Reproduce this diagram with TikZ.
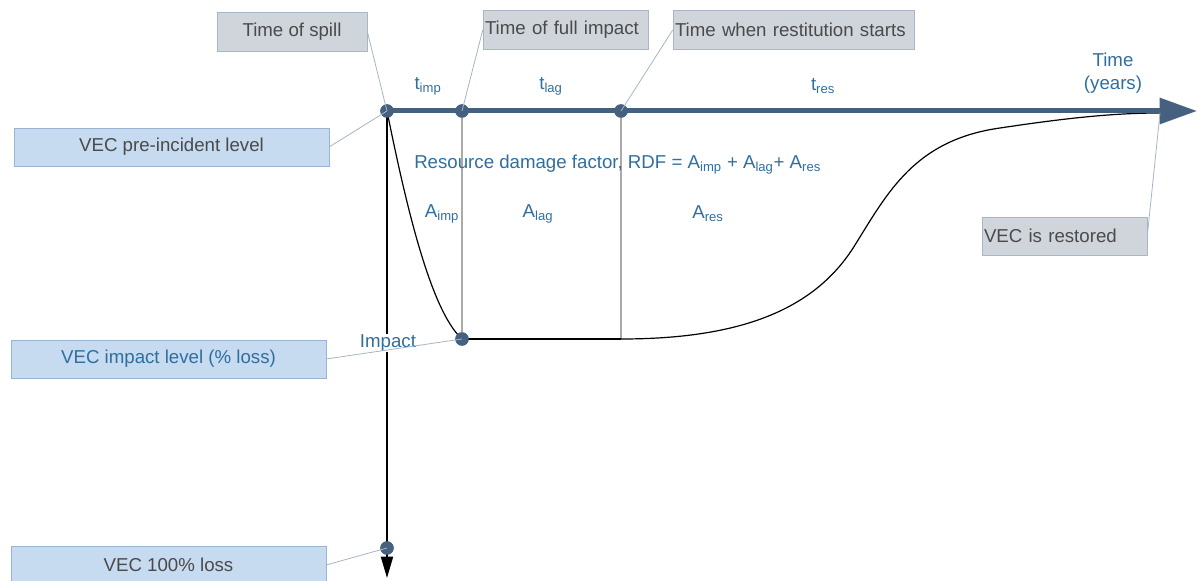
\documentclass[tikz,border=0pt]{standalone}
\usepackage{fontspec}
\setmainfont{Liberation Sans}
\usetikzlibrary{arrows.meta,positioning}
\definecolor{axis}{HTML}{45617F}
\definecolor{label}{HTML}{2F6E9F}
\definecolor{ink}{HTML}{4A4A4A}
\definecolor{greyfill}{HTML}{D0D5DC}
\definecolor{greyline}{HTML}{A9B6C6}
\definecolor{bluefill}{HTML}{C6DAF0}
\definecolor{blueline}{HTML}{99B3D4}
\definecolor{leader}{HTML}{A6B4C6}
\definecolor{divider}{HTML}{AAAAAA}
\tikzset{
  base/.style={font=\fontsize{14}{17}\selectfont,inner sep=1.5pt},
  callout/.style={base,draw=greyline,fill=greyfill,text=ink,minimum height=29pt},
  level/.style={base,draw=blueline,fill=bluefill,text=ink,minimum width=236pt,minimum height=28.5pt},
  tag/.style={base,text=label,align=center},
  dot/.style={circle,fill=axis,inner sep=0pt,minimum size=10pt},
  timeline/.style={line width=3.75pt,draw=axis,-{Triangle[length=28pt,width=19pt]}},
  lossaxis/.style={line width=1.5pt,draw=black,-{Triangle[length=16pt,width=9pt]}},
  divide/.style={line width=1.1pt,draw=divider},
  recovery/.style={line width=0.9pt,draw=black},
  leaderline/.style={line width=0.6pt,draw=leader}
}

\begin{document}
\begin{tikzpicture}[x=0.75pt,y=-0.75pt]
\useasboundingbox (0,0) rectangle (1197,581);

% points on the axes
\node[dot] (spilldot) at (387,111) {};
\node[dot] (fulldot) at (462,111) {};
\node[dot] (restdot) at (621,111) {};
\node[dot] (impactdot) at (462,339) {};
\node[dot] (lossdot) at (387,548) {};
\coordinate (resbot) at (621,339);
\coordinate (recovered) at (1160,113);
\coordinate (tipend) at (1197,111);
\coordinate (axisend) at (387,578);

% phases
\draw[divide] (fulldot.center) -- (impactdot.center);
\draw[divide] (restdot.center) -- (resbot);
\draw[recovery] (spilldot.center) .. controls (405,200) and (430,310) .. (impactdot.center);
\draw[recovery] (impactdot.center) -- (resbot);
\draw[recovery] (resbot) .. controls (740,339) and (815,310) .. (855,245)
  .. controls (888,192) and (915,140) .. (1000,128)
  .. controls (1060,119) and (1110,113) .. (recovered);

% axes
\draw[timeline] (spilldot.center) -- (tipend);
\draw[lossaxis] (spilldot.center) -- (axisend);
\node[dot] at (spilldot) {};
\node[dot] at (fulldot) {};
\node[dot] at (restdot) {};
\node[dot] at (impactdot) {};
\node[dot] at (lossdot) {};

% labels
\node[tag] (timp) at (428,86) {t\textsubscript{imp}};
\node[tag] (tlag) at (551,86) {t\textsubscript{lag}};
\node[tag] (tres) at (823,86) {t\textsubscript{res}};
\node[tag] (years) at (1113,73) {Time\\(years)};
\node[tag,anchor=west] (rdf) at (412,165) {Resource damage factor, RDF = A\textsubscript{imp} + A\textsubscript{lag}+ A\textsubscript{res}};
\node[tag] (aimp) at (442,214) {A\textsubscript{imp}};
\node[tag] (alag) at (538,214) {A\textsubscript{lag}};
\node[tag] (ares) at (708,214) {A\textsubscript{res}};
\node[tag,fill=white,inner sep=0.5pt] (impact) at (388,343) {Impact};

% callouts
\node[callout,minimum width=112.5pt] (spillbox) at (292,31.5) {Time of spill};
\node[callout,text width=120.75pt,align=left] (fullbox) at (565.5,30) {Time of full impact};
\node[callout,text width=177.75pt,align=left] (restbox) at (793.5,30) {Time when restitution starts};
\node[callout,text width=120.75pt,align=left,minimum height=28.5pt] (restoredbox) at (1064.5,236) {VEC is restored};
\node[level] (preinc) at (171.5,147) {VEC pre-incident level};
\node[level,text=label] (impactlvl) at (168.5,359) {VEC impact level (\% loss)};
\node[level] (lossbox) at (168.5,565) {VEC 100\% loss};

\draw[leaderline] (spillbox.east) -- (spilldot.center);
\draw[leaderline] (fullbox.west) -- (fulldot.center);
\draw[leaderline] (restbox.west) -- (restdot.center);
\draw[leaderline] (restoredbox.east) -- (recovered);
\draw[leaderline] (preinc.east) -- (spilldot.center);
\draw[leaderline] (impactlvl.east) -- (impactdot.center);
\draw[leaderline] (lossbox.east) -- (lossdot.center);
\end{tikzpicture}
\end{document}
